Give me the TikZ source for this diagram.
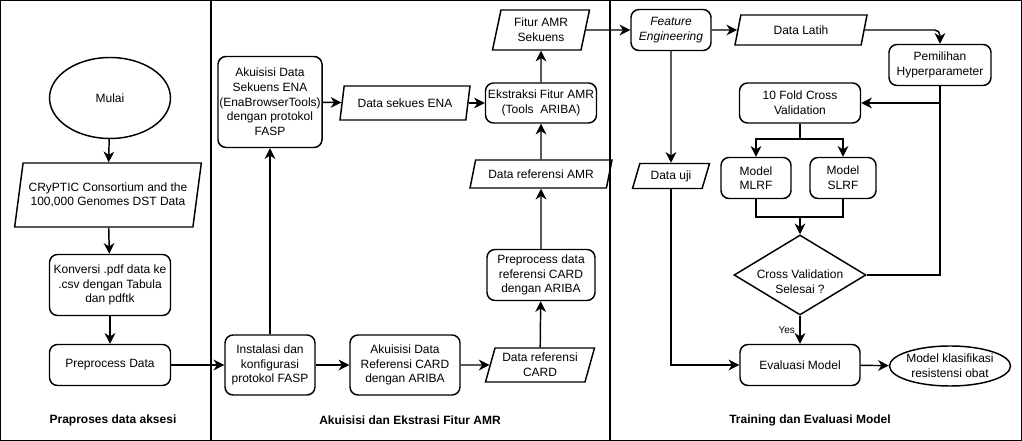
\documentclass[tikz,border=0pt]{standalone}
\usepackage{fontspec}
\setmainfont{Liberation Sans}
\usepackage{tikz}
\usetikzlibrary{arrows.meta,positioning,shapes}

\begin{document}
\begin{tikzpicture}[
    x=0.75pt, y=-0.75pt,
    every node/.style={font=\fontsize{9}{11}\selectfont, align=center},
    box/.style={draw, line width=1.1pt, rounded corners=6pt, inner sep=1pt},
    para/.style={draw, line width=1.1pt, trapezium, trapezium stretches body=true,
        trapezium left angle=#1, trapezium right angle=180-#1, inner sep=1pt},
    term/.style={draw, line width=1.1pt, ellipse, inner sep=0pt},
    decide/.style={draw, line width=1.1pt, diamond, inner sep=0pt},
    line/.style={line width=1.1pt},
    arr/.style={line width=1.1pt, -{Stealth[length=8pt, width=8pt, inset=2.5pt]}},
    section/.style={font=\fontsize{9}{11}\selectfont\bfseries}
]
    \useasboundingbox (0,0) rectangle (1022,441);

    % Panels
    \draw[line width=0.8pt] (0.5,0.5) rectangle (211,440.5);
    \draw[line width=0.8pt] (211,0.5) rectangle (610,440.5);
    \draw[line width=0.8pt] (610,0.5) rectangle (1021.5,440.5);

    % Praproses data aksesi
    \node[term, minimum width=90.75pt, minimum height=60.75pt] (mulai) at (110,98) {Mulai};
    \node[para=73, minimum width=140pt, minimum height=48pt] (cryptic) at (108,195)
        {CRyPTIC Consortium and the\\100,000 Genomes DST Data};
    \node[box, minimum width=90.75pt, minimum height=45.75pt] (konversi) at (110,285)
        {Konversi .pdf data ke\\.csv dengan Tabula\\dan pdftk};
    \node[box, minimum width=90.75pt, minimum height=30.75pt] (prepro) at (110,365) {Preprocess Data};

    % Akuisisi dan ekstraksi
    \node[box, minimum width=75.75pt, minimum height=68.25pt] (akuena) at (270,102)
        {Akuisisi Data\\Sekuens ENA\\(EnaBrowserTools)\\dengan protokol\\FASP};
    \node[box, minimum width=67.5pt, minimum height=45pt] (instalasi) at (270,365)
        {Instalasi dan\\konfigurasi\\protokol FASP};
    \node[box, minimum width=82.5pt, minimum height=45pt] (akucard) at (405,365)
        {Akuisisi Data\\Referensi CARD\\dengan ARIBA};
    \node[para=70, minimum width=81.75pt, minimum height=25.5pt] (refcard) at (540,365)
        {Data referensi\\CARD};
    \node[box, minimum width=81pt, minimum height=38.25pt] (precard) at (541,275)
        {Preprocess data\\referensi CARD\\dengan ARIBA};
    \node[para=64, minimum width=106.5pt, minimum height=21pt] (refamr) at (541,174)
        {Data referensi AMR};
    \node[box, minimum width=83.25pt, minimum height=30pt] (ekstraksi) at (541,103)
        {Ekstraksi Fitur AMR\\(Tools~ ARIBA)};
    \node[para=70, minimum width=97.5pt, minimum height=25.5pt] (sekues) at (405,103)
        {Data sekues ENA};
    \node[para=72, minimum width=72.75pt, minimum height=30pt] (fitur) at (541,30)
        {Fitur AMR\\Sekuens};

    % Training dan evaluasi
    \node[box, minimum width=60pt, minimum height=30.75pt] (feature) at (671,30)
        {\itshape Feature\\\itshape Engineering};
    \node[para=63, minimum width=99pt, minimum height=22.5pt] (latih) at (801,30) {Data Latih};
    \node[box, minimum width=76.5pt, minimum height=30.75pt] (hyper) at (940,65)
        {Pemilihan\\Hyperparameter};
    \node[box, minimum width=90.75pt, minimum height=30pt] (kfold) at (800,103)
        {10 Fold Cross\\Validation};
    \node[box, minimum width=52.5pt, minimum height=30.75pt] (mlrf) at (756,178) {Model\\MLRF};
    \node[box, minimum width=49.5pt, minimum height=30.75pt] (slrf) at (843,178) {Model\\SLRF};
    \node[decide, minimum width=99pt, minimum height=60pt,
        label={[yshift=-5pt]center:Cross Validation\\Selesai ?}] (selesai) at (800,275) {};
    \node[para=62, minimum width=57.75pt, minimum height=18.75pt] (uji) at (671,176) {Data uji};
    \node[box, minimum width=90pt, minimum height=30.75pt] (evaluasi) at (800,365) {Evaluasi Model};
    \node[term, inner xsep=-4pt, minimum width=90.75pt, minimum height=30pt] (hasil) at (950,366)
        {Model klasifikasi\\resistensi obat};

    % Section titles
    \node[section] (judul1) at (113,420) {Praproses data aksesi};
    \node[section] (judul2) at (410,420) {Akuisisi dan Ekstrasi Fitur AMR};
    \node[section] (judul3) at (810,420) {Training dan Evaluasi Model};

    % Flow
    \draw[arr] (mulai) -- (cryptic);
    \draw[arr] (cryptic) -- (konversi);
    \draw[arr] (konversi) -- (prepro);
    \draw[arr] (prepro) -- (instalasi);
    \draw[arr] (instalasi) -- (akuena);
    \draw[arr] (instalasi) -- (akucard);
    \draw[arr] (akucard) -- (refcard);
    \draw[arr] (refcard) -- (precard);
    \draw[arr] (precard) -- (refamr);
    \draw[arr] (refamr) -- (ekstraksi);
    \draw[arr] (akuena) -- (sekues);
    \draw[arr] (sekues) -- (ekstraksi);
    \draw[arr] (ekstraksi) -- (fitur);
    \draw[arr] (fitur) -- (feature);
    \draw[arr] (feature) -- (latih);
    \draw[arr, rounded corners=4pt] (latih.east) -| (hyper.north);
    \draw[arr] (feature) -- (uji);
    \draw[arr] (uji.south) |- (evaluasi.west);

    % Cross validation loop
    \coordinate (bagi) at (800,139);
    \coordinate (gabung) at (800,217);
    \draw[line] (kfold.south) -- (bagi);
    \draw[arr] (bagi) -| (mlrf.north);
    \draw[arr] (bagi) -| (slrf.north);
    \draw[line] (mlrf.south) |- (gabung) -| (slrf.south);
    \draw[arr] (gabung) -- (selesai.north);
    \draw[line] (hyper.south) |- (selesai.east);
    \draw[arr] (hyper.south |- kfold.east) -- (kfold.east);
    \draw[arr] (selesai.south) -- (evaluasi.north)
        node[midway, left, font=\fontsize{7.5}{9}\selectfont] {Yes};
    \draw[arr] (evaluasi) -- (hasil);
\end{tikzpicture}
\end{document}
